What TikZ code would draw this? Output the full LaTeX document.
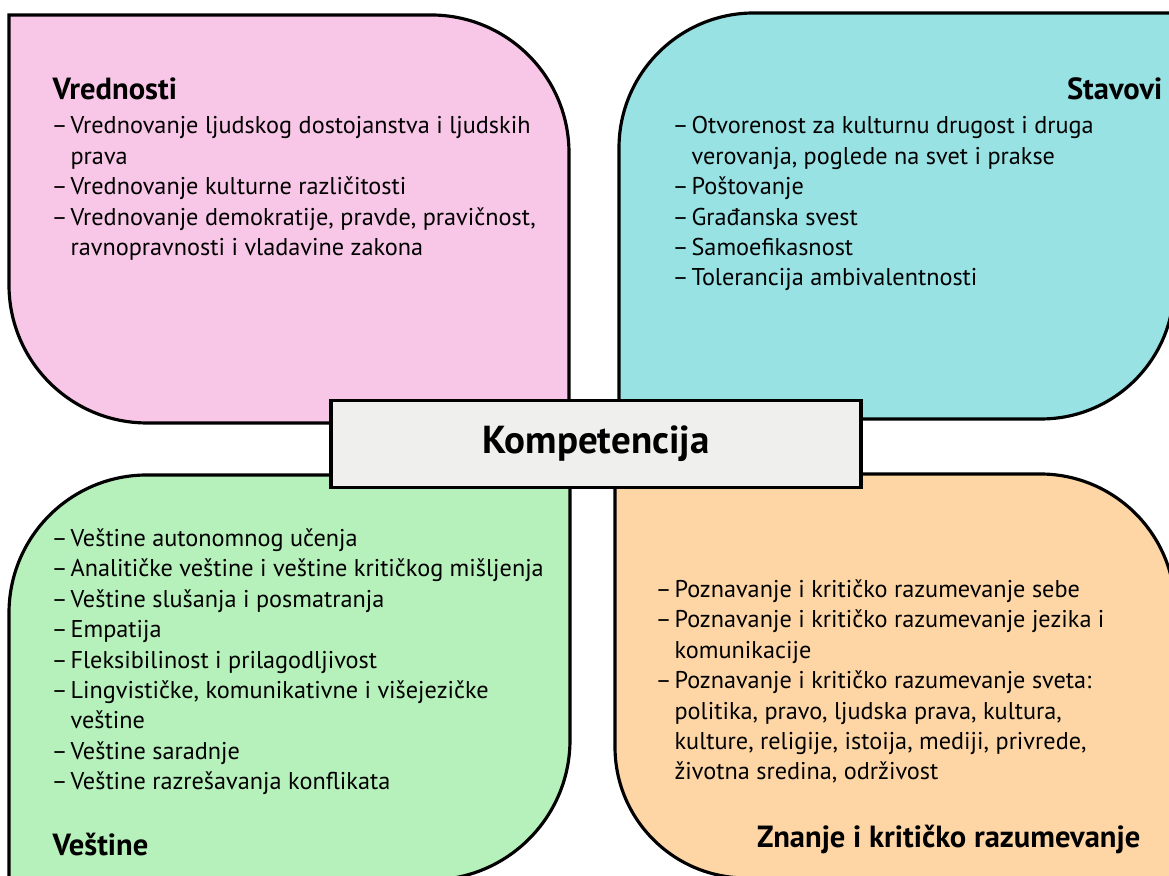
\documentclass[tikz,border=0pt]{standalone}
\usepackage{fontspec}
\setmainfont{PT Sans}
\usepackage{tikz}
\definecolor{vredpink}{RGB}{248,198,230}
\definecolor{stavcyan}{RGB}{152,226,228}
\definecolor{vestgreen}{RGB}{182,240,186}
\definecolor{znanorange}{RGB}{254,214,166}
\definecolor{kompgray}{RGB}{239,239,237}
\newcommand{\itemdash}{–\kern0.12em}
\newcommand{\listindent}{\phantom{\itemdash}}
\tikzset{
  petal/.style={draw=black, line width=0.9pt},
  itemlist/.style={align=left, anchor=north west, inner sep=0pt, font=\fontsize{6.9}{8.65}\selectfont},
  heading/.style={inner sep=0pt, font=\bfseries\fontsize{8.7}{10}\selectfont},
  kompbox/.style={draw=black, fill=kompgray, line width=0.9pt, font=\bfseries\fontsize{11.1}{13}\selectfont}
}

\begin{document}
\begin{tikzpicture}
    \useasboundingbox (0,0) rectangle (11.69,8.76);
    % petals
    \filldraw[petal, fill=vredpink] (0.09,8.61) -- (4.31,8.61) arc[start angle=90, end angle=0, radius=1.38]
      -- (5.69,4.53) -- (1.47,4.53) arc[start angle=270, end angle=180, radius=1.38] -- cycle;
    \filldraw[petal, fill=stavcyan] (6.19,4.57) -- (6.19,7.28) arc[start angle=180, end angle=90, radius=1.35]
      -- (11.74,8.63) -- (11.74,5.90) arc[start angle=0, end angle=-90, radius=1.33] -- cycle;
    \filldraw[petal, fill=vestgreen] (0.09,-0.04) -- (0.09,2.63) arc[start angle=180, end angle=90, radius=1.38]
      -- (5.70,4.01) -- (5.70,1.36) arc[start angle=0, end angle=-90, radius=1.40] -- cycle;
    \filldraw[petal, fill=znanorange] (6.15,4.02) -- (10.40,4.02) arc[start angle=90, end angle=0, radius=1.35]
      -- (11.75,-0.02) -- (7.46,-0.02) arc[start angle=270, end angle=180, radius=1.31] -- cycle;
    % headings
    \node[heading, anchor=base west] (vred) at (0.52,7.76) {Vrednosti};
    \node[heading, anchor=base east] (stav) at (11.63,7.76) {Stavovi};
    \node[heading, anchor=base west] (vest) at (0.52,0.20) {Veštine};
    \node[heading, anchor=base east] (znan) at (11.41,0.28) {Znanje i kritičko razumevanje};
    % lists
    \node[itemlist] (vred-list) at (0.51,7.60) {\itemdash Vrednovanje ljudskog dostojanstva i ljudskih\\
      \listindent prava\\
      \itemdash Vrednovanje kulturne različitosti\\
      \itemdash Vrednovanje demokratije, pravde, pravičnost,\\
      \listindent ravnopravnosti i vladavine zakona};
    \node[itemlist] (stav-list) at (6.72,7.60) {\itemdash Otvorenost za kulturnu drugost i druga\\
      \listindent verovanja, poglede na svet i prakse\\
      \itemdash Poštovanje\\
      \itemdash Građanska svest\\
      \itemdash Samoefikasnost\\
      \itemdash Tolerancija ambivalentnosti};
    \node[itemlist] (vest-list) at (0.51,3.48) {\itemdash Veštine autonomnog učenja\\
      \itemdash Analitičke veštine i veštine kritičkog mišljenja\\
      \itemdash Veštine slušanja i posmatranja\\
      \itemdash Empatija\\
      \itemdash Fleksibilinost i prilagodljivost\\
      \itemdash Lingvističke, komunikativne i višejezičke\\
      \listindent veštine\\
      \itemdash Veštine saradnje\\
      \itemdash Veštine razrešavanja konflikata};
    \node[itemlist] (znan-list) at (6.55,2.97) {\itemdash Poznavanje i kritičko razumevanje sebe\\
      \itemdash Poznavanje i kritičko razumevanje jezika i\\
      \listindent komunikacije\\
      \itemdash Poznavanje i kritičko razumevanje sveta:\\
      \listindent politika, pravo, ljudska prava, kultura,\\
      \listindent kulture, religije, istoija, mediji, privrede,\\
      \listindent životna sredina, održivost};
    % center
    \node[kompbox, minimum width=5.30cm, minimum height=0.87cm] (komp) at (5.96,4.32) {Kompetencija};
\end{tikzpicture}
\end{document}
